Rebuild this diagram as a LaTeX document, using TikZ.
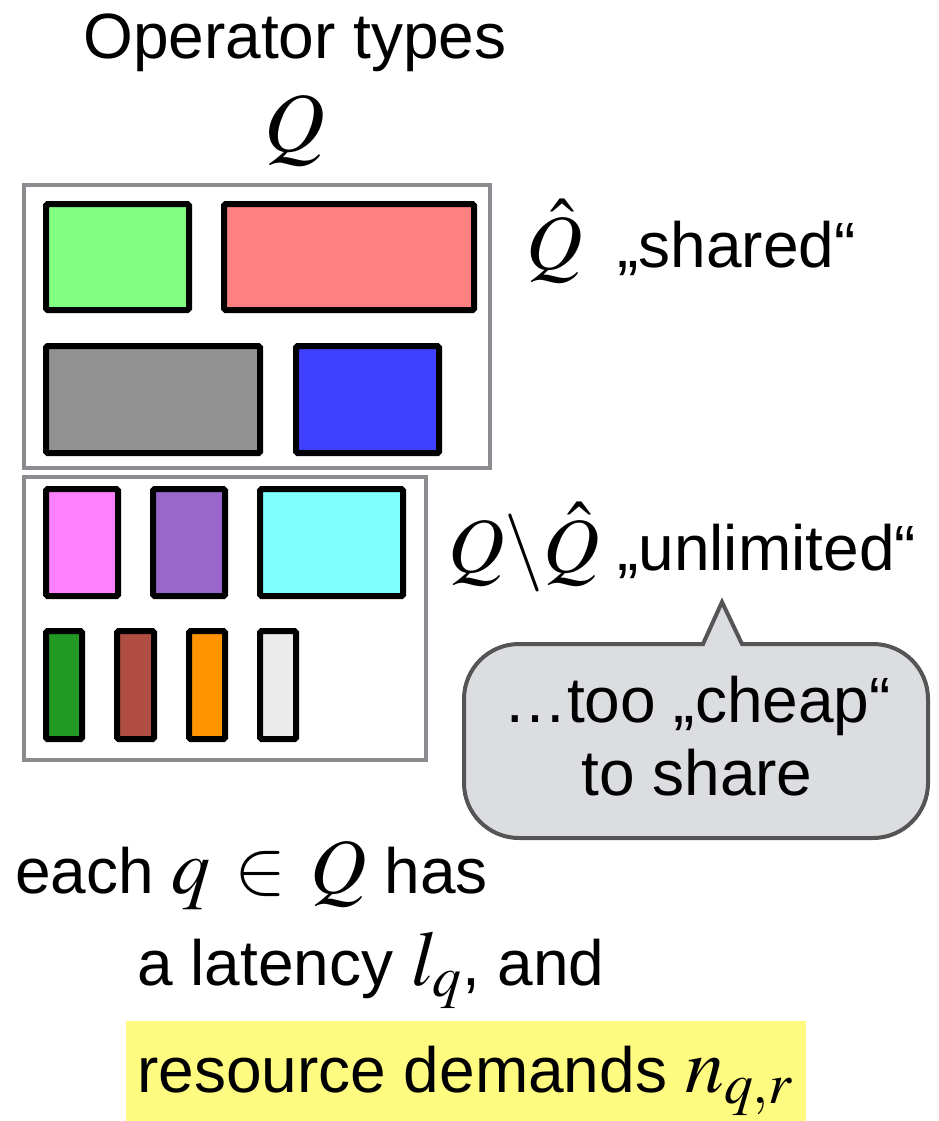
\documentclass[tikz,border=0pt]{standalone}
\usepackage{mathptmx}
\usepackage[no-math]{fontspec}
\setmainfont{Liberation Sans}

% fills of the operator boxes
\definecolor{opgreen}{HTML}{80FF80}
\definecolor{opred}{HTML}{FF8080}
\definecolor{opgray}{HTML}{929292}
\definecolor{opblue}{HTML}{4040FF}
\definecolor{oppink}{HTML}{FF80FF}
\definecolor{oppurple}{HTML}{9966CC}
\definecolor{opcyan}{HTML}{80FFFF}
\definecolor{opdkgreen}{HTML}{229922}
\definecolor{opbrown}{HTML}{B04E44}
\definecolor{oporange}{HTML}{FF9400}
\definecolor{oplight}{HTML}{EBEBEB}
% frames, callout, highlight
\definecolor{framegray}{HTML}{8A8C90}
\definecolor{calloutfill}{HTML}{DCDDE0}
\definecolor{calloutline}{HTML}{555555}
\definecolor{highlight}{HTML}{FFFA80}

% math set a little larger than the surrounding sans text
\newcommand{\bigmath}[2][78]{{\fontsize{#1}{#1}\selectfont$#2$}}

\begin{document}
\begin{tikzpicture}[x=1pt,y=-1pt,
  opbox/.style={draw=black, line width=6pt, rounded corners=1.5pt},
  groupbox/.style={draw=framegray, line width=4pt},
  txt/.style={inner sep=0pt, font=\fontsize{64}{72}\selectfont}]

\useasboundingbox (0,0) rectangle (938,1121);

% title
\node[txt, anchor=base] (title) at (295,59) {Operator types};
\node[txt, anchor=base] (setQ) at (295,151) {\bigmath[84]{Q}};

% shared operator types
\draw[groupbox] (24,185) rectangle (490,468);
\draw[opbox, fill=opgreen] (46,204) rectangle (189,310);
\draw[opbox, fill=opred]   (224,204) rectangle (474,310);
\draw[opbox, fill=opgray]  (46,346) rectangle (260,453);
\draw[opbox, fill=opblue]  (296,346) rectangle (439,453);

\node[txt, anchor=base west] (qhat) at (526,269) {\bigmath{\hat{Q}}};
\node[txt, anchor=base west] (shared) at (617,267) {„shared“};

% unlimited operator types
\draw[groupbox] (24,477) rectangle (426,760);
\draw[opbox, fill=oppink]   (46,489) rectangle (118,596);
\draw[opbox, fill=oppurple] (153,489) rectangle (225,596);
\draw[opbox, fill=opcyan]   (260,489) rectangle (403,596);
\draw[opbox, fill=opdkgreen] (46,631) rectangle (82,739);
\draw[opbox, fill=opbrown]   (117,631) rectangle (154,739);
\draw[opbox, fill=oporange]  (189,631) rectangle (225,739);
\draw[opbox, fill=oplight]   (260,631) rectangle (296,739);

\node[txt, anchor=base west] (qminus) at (448,572) {\bigmath{Q\backslash\hat{Q}}};
\node[txt, anchor=base west] (unlimited) at (617,570) {„unlimited“};

% speech bubble
\draw[fill=calloutfill, draw=calloutline, line width=4pt, line join=miter]
  (722,602) -- (742,644) -- (850,644) [rounded corners=55pt]
  -- (928,644) -- (928,838) -- (464,838) -- (464,644) -- (600,644)
  [sharp corners] -- (703,644) -- cycle;
\node[txt, anchor=base] (cheap) at (697,722) {…too „cheap“};
\node[txt, anchor=base] (toshare) at (697,795) {to share};

% properties of each operator type
\fill[highlight] (126,1021) rectangle (806,1121);
\node[txt, anchor=base west] (each) at (15,893)
  {each \bigmath{q \mskip1.5mu\in\mskip1.5mu Q} has};
\node[txt, anchor=base west] (latency) at (137,985)
  {a latency \bigmath{l_q}, and};
\node[txt, anchor=base west] (demands) at (137,1092)
  {resource demands \bigmath{n_{q,r}}};

\end{tikzpicture}
\end{document}
